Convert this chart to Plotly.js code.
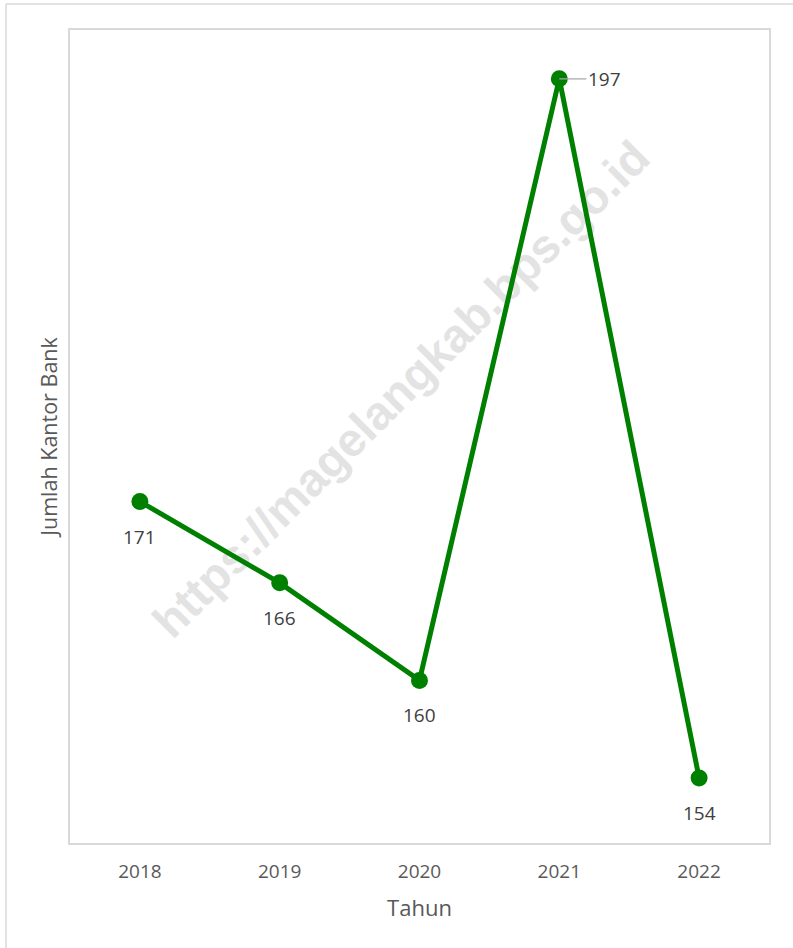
<!DOCTYPE html>
<html>
<head>
<meta charset="utf-8">
<script src="https://cdn.plot.ly/plotly-3.0.1.min.js"></script>
<style>
  html, body { margin: 0; padding: 0; background: #ffffff; overflow: hidden; }
  #chart { width: 793px; height: 948px; }
</style>
</head>
<body>
<div id="chart"></div>
<script>
const years = ["2018", "2019", "2020", "2021", "2022"];
const kantorBank = [171, 166, 160, 197, 154];
const labelSides = ["below", "below", "below", "right", "below"];
const xTitle = "Tahun";
const yTitle = "Jumlah Kantor Bank";
const watermark = "https://magelangkab.bps.go.id";

const trace = {
  type: "scatter",
  mode: "lines+markers",
  x: years,
  y: kantorBank,
  line: { color: "#008000", width: 5 },
  marker: { color: "#008000", size: 17 },
  hoverinfo: "skip"
};

const annotations = years.map((yr, i) => {
  const common = {
    x: i, y: kantorBank[i], xref: "x", yref: "y",
    text: String(kantorBank[i]),
    font: { family: "Open Sans, sans-serif", size: 19, color: "#404040" }
  };
  if (labelSides[i] === "right") {
    return Object.assign(common, {
      showarrow: true, arrowhead: 0, arrowwidth: 1.2, arrowcolor: "#a6a6a6",
      ax: 45, ay: 0, standoff: 0, startstandoff: 0, xanchor: "center"
    });
  }
  return Object.assign(common, { showarrow: false, yshift: -35 });
});

const layout = {
  width: 793, height: 948,
  margin: { l: 70, r: 24, t: 30, b: 105 },
  paper_bgcolor: "#ffffff",
  plot_bgcolor: "#ffffff",
  showlegend: false,
  font: { family: "Open Sans, sans-serif", color: "#595959" },
  xaxis: {
    type: "category",
    range: [-0.5, 4.5],
    showgrid: false, zeroline: false,
    showline: true, mirror: true, linecolor: "#d9d9d9", linewidth: 2,
    ticks: "", tickfont: { size: 19, color: "#595959" }, ticklabelstandoff: 10,
    title: { text: xTitle, font: { size: 22, color: "#595959" }, standoff: 18 }
  },
  yaxis: {
    range: [150, 200],
    showgrid: false, zeroline: false,
    showline: true, mirror: true, linecolor: "#d9d9d9", linewidth: 2,
    ticks: "", showticklabels: false,
    title: { text: yTitle, font: { size: 21.5, color: "#595959" }, standoff: 4 }
  },
  annotations: annotations,
  shapes: [
    { type: "line", xref: "paper", yref: "paper", x0: -0.0916, x1: -0.0916, y0: 1.032, y1: -0.2,
      line: { color: "#d9d9d9", width: 1.5 } },
    { type: "line", xref: "paper", yref: "paper", x0: -0.0916, x1: 1.1, y0: 1.032, y1: 1.032,
      line: { color: "#d9d9d9", width: 1.5 } },
    { type: "line", xref: "paper", yref: "paper", layer: "below",
      x0: (148 - 70) / 699, y0: (843 - 636) / 813,
      x1: (648 - 70) / 699, y1: (843 - 136) / 813,
      line: { color: "rgba(0,0,0,0)", width: 0 },
      label: { text: watermark, textposition: "middle", textangle: "auto", yanchor: "middle",
        font: { family: "Liberation Sans, Arial, sans-serif", size: 47, color: "#e3e3e3", weight: "bold" } } }
  ]
};

Plotly.newPlot("chart", [trace], layout, { displayModeBar: false, staticPlot: true });
</script>
</body>
</html>
